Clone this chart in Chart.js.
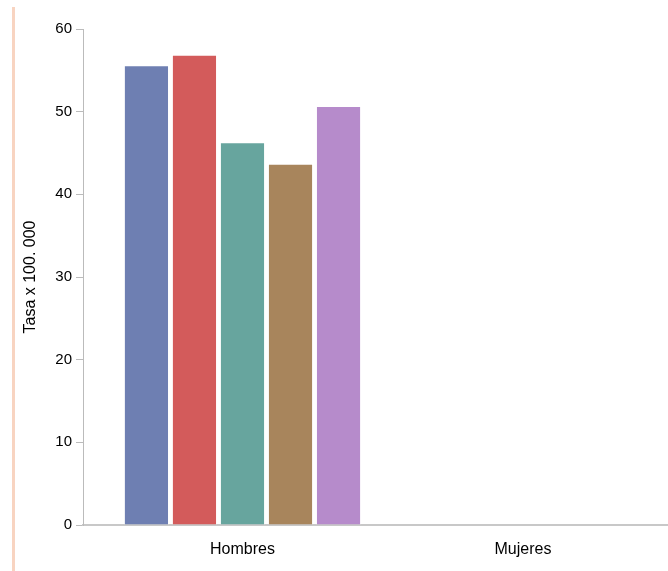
<!DOCTYPE html>
<html>
<head>
<meta charset="utf-8">
<script src="https://cdn.jsdelivr.net/npm/chart.js@4/dist/chart.umd.min.js"></script>
<style>
  html, body { margin: 0; padding: 0; background: #fff; }
  #wrap { position: relative; width: 668px; height: 571px; }
  #bar { position: absolute; left: 12px; top: 7px; width: 3px; height: 564px; background: #f8d4c1; }
  canvas { position: absolute; left: 0; top: 0; }
</style>
</head>
<body>
<div id="wrap">
  <canvas id="c" width="668" height="571"></canvas>
  <div id="bar"></div>
</div>
<script>
const categories = ['Hombres', 'Mujeres'];
const seriesA = [55.6, null];
const seriesB = [56.9, null];
const seriesC = [46.3, null];
const seriesD = [43.7, null];
const seriesE = [50.7, null];
const seriesList = [seriesA, seriesB, seriesC, seriesD, seriesE];
const colors = ['#6e7fb2', '#d35b5b', '#67a59e', '#a8855c', '#b68bcb'];
const yTicks = [0, 10, 20, 30, 40, 50, 60];

const datasets = seriesList.map((s, i) => ({
  label: 'Serie ' + (i + 1),
  data: s.map((v, j) => ({ x: j, y: v })),
  backgroundColor: colors[i],
  borderColor: 'rgba(255,255,255,0.5)',
  borderWidth: 1,
  categoryPercentage: 0.856,
  barPercentage: 0.94
}));

const FONT = "'Liberation Sans', Arial, sans-serif";

new Chart(document.getElementById('c'), {
  type: 'bar',
  data: { datasets },
  options: {
    responsive: false,
    animation: false,
    layout: { padding: { top: 29, right: 0, left: 0, bottom: 0 } },
    plugins: { legend: { display: false }, tooltip: { enabled: false } },
    scales: {
      x: {
        type: 'linear',
        offset: false,
        min: -0.5686,
        max: 1.517,
        afterBuildTicks: (scale) => { scale.ticks = categories.map((c, i) => ({ value: i })); },
        afterFit: (scale) => { scale.height = 46; },
        grid: { display: false, offset: false },
        border: { display: true, color: '#c8c8c8', width: 2 },
        ticks: {
          callback: (v) => categories[v] ?? '',
          color: '#000',
          font: { family: FONT, size: 16 },
          padding: 7,
          maxRotation: 0,
          autoSkip: false
        }
      },
      y: {
        min: 0,
        max: 60,
        afterBuildTicks: (scale) => { scale.ticks = yTicks.map(v => ({ value: v })); },
        afterFit: (scale) => { scale.width = 83; },
        grid: { drawOnChartArea: false, drawTicks: true, tickLength: 7, color: '#bbbbbb' },
        border: { display: true, color: '#bbbbbb', width: 1 },
        ticks: {
          color: '#000',
          font: { family: FONT, size: 15 },
          padding: 4
        },
        title: {
          display: true,
          text: 'Tasa x 100. 000',
          color: '#000',
          font: { family: FONT, size: 16 },
          padding: { top: 21, bottom: 0 }
        }
      }
    }
  }
});
</script>
</body>
</html>
